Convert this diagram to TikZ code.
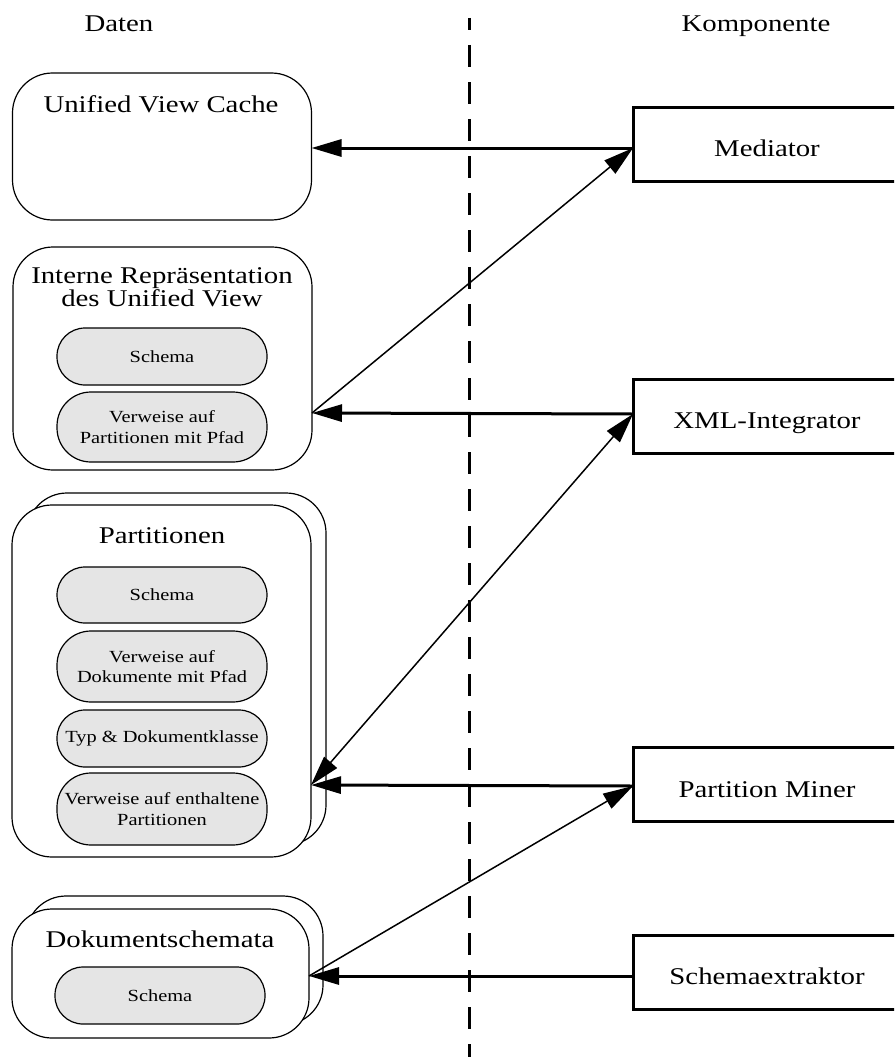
\documentclass[tikz,border=0pt]{standalone}
\usepackage{fontspec}
\setmainfont{Liberation Serif}[FakeStretch=1.2]
\usetikzlibrary{arrows.meta}
\definecolor{pillgray}{gray}{0.9}

\tikzset{
  big/.style={font=\fontsize{24}{21}\selectfont},
  small/.style={font=\fontsize{17}{20.5}\selectfont},
  heading/.style={big, anchor=base, inner sep=0pt},
  store/.style={draw, line width=1.2pt, rounded corners=40pt, fill=white,
    inner sep=0pt, outer sep=0pt},
  pill/.style={draw, line width=1.2pt, rounded corners=28pt, fill=pillgray,
    small, align=center, minimum width=210pt, inner sep=0pt, outer sep=0pt},
  pill2/.style={pill, rounded corners=34pt},
  comp/.style={draw, line width=3pt, big, minimum width=268pt,
    minimum height=74pt, text height=25pt, text depth=0pt,
    inner sep=0pt, outer sep=0pt},
  tip/.tip={Triangle[length=30pt,width=17pt]},
  flow/.style={line width=3pt, -tip},
  link/.style={line width=1.5pt, -tip},
  linkboth/.style={line width=1.5pt, tip-tip},
  divider/.style={line width=3pt, dash pattern=on 22pt off 15pt, dash phase=10pt},
}

\begin{document}
\begin{tikzpicture}[x=1pt, y=-1pt]
  \clip (0,0) rectangle (894,1057);
  \fill[white] (0,0) rectangle (894,1057);

  % column headings
  \node[heading] (hData) at (119,32) {Daten};
  \node[heading] (hComp) at (756,32) {Komponente};

  % separator between data and components
  \coordinate (divTop) at (469,18);
  \coordinate (divBot) at (469,1057);
  \draw[divider] (divTop) -- (divBot);

  % ---------- data stores ----------
  \node[store, minimum width=299pt, minimum height=147pt] (uvc) at (162,146.5) {};
  \node[heading] (uvcT) at (161,112) {Unified View Cache};

  \node[store, minimum width=299pt, minimum height=223pt] (irep) at (162.5,358.5) {};
  \node[big, align=center, inner sep=0pt] (irepT) at (162,287.5)
    {Interne Repräsentation\\des Unified View};
  \node[pill, minimum height=57pt] (iSchema) at (162,356.5) {Schema};
  \node[pill2, minimum height=70pt] (iRef) at (162,427)
    {Verweise auf\\Partitionen mit Pfad};

  \node[store, minimum width=299pt, minimum height=352pt] (partB) at (176.5,669) {};
  \node[store, minimum width=299pt, minimum height=352pt] (part) at (161.5,681) {};
  \node[heading] (partT) at (162,543) {Partitionen};
  \node[pill, minimum height=56pt] (pSchema) at (162,595) {Schema};
  \node[pill2, minimum height=71pt] (pRef) at (162,666.5)
    {Verweise auf\\Dokumente mit Pfad};
  \node[pill, minimum height=57pt] (pTyp) at (162,738.5) {Typ \& Dokumentklasse};
  \node[pill2, minimum height=72pt] (pSub) at (162,809)
    {Verweise auf enthaltene\\Partitionen};

  \node[store, minimum width=297pt, minimum height=129pt] (dokB) at (174.5,960.5) {};
  \node[store, minimum width=297pt, minimum height=129pt] (dok) at (160.5,973.5) {};
  \node[heading] (dokT) at (160,947) {Dokumentschemata};
  \node[pill, minimum height=57pt] (dSchema) at (160,995.5) {Schema};

  % ---------- components ----------
  \node[comp] (med) at (767,144) {Mediator};
  \node[comp] (xml) at (767,416) {XML-Integrator};
  \node[comp] (pm)  at (767,784.5) {Partition Miner};
  \node[comp] (se)  at (767,972) {Schemaextraktor};

  % connection points on the boxes
  \coordinate (uvcR) at (311.5,148);
  \coordinate (medL) at (633,148);
  \coordinate (irepR) at (312,413);
  \coordinate (xmlL) at (633,414);
  \coordinate (partR) at (311,785);
  \coordinate (pmL) at (633,786);
  \coordinate (dokR) at (309,976);
  \coordinate (seL) at (633,976);

  % ---------- connectors ----------
  \draw[flow] (medL) -- (uvcR);
  \draw[link] (irepR) -- (medL);
  \draw[flow] (xmlL) -- (irepR);
  \draw[linkboth] (partR) -- (xmlL);
  \draw[flow] (pmL) -- (partR);
  \draw[link] (dokR) -- (pmL);
  \draw[flow] (seL) -- (dokR);
\end{tikzpicture}
\end{document}
